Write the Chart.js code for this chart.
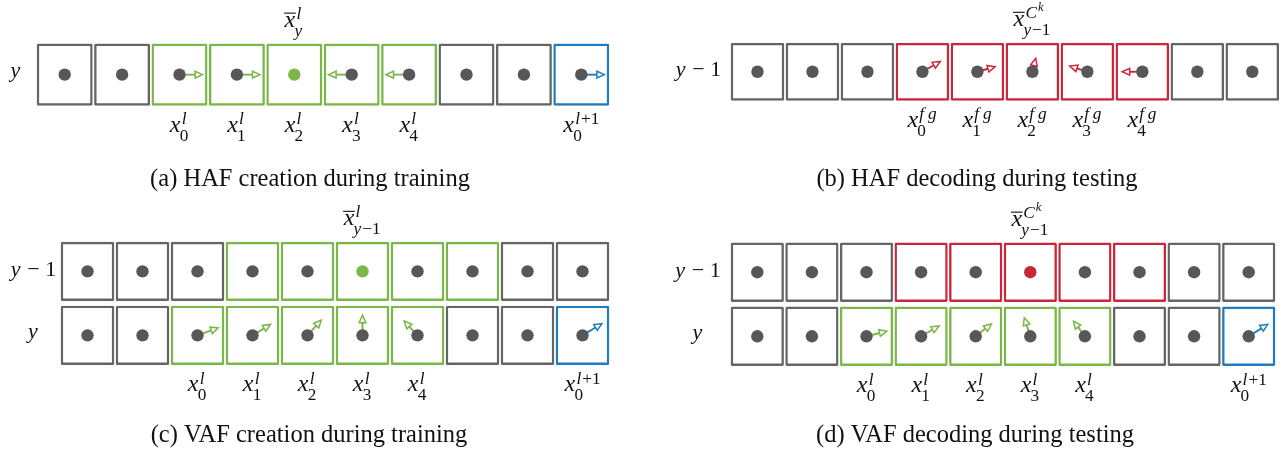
<!DOCTYPE html>
<html>
<head>
<meta charset="utf-8">
<script src="https://cdn.jsdelivr.net/npm/chart.js@4.4.0/dist/chart.umd.min.js"></script>
<style>
html, body { margin: 0; padding: 0; background: #fff; }
body { width: 1286px; height: 454px; position: relative; overflow: hidden; }
canvas { position: absolute; }
</style>
</head>
<body>
<canvas id="pa" width="643" height="200" style="left:0;top:0"></canvas>
<canvas id="pb" width="643" height="200" style="left:643px;top:0"></canvas>
<canvas id="pc" width="643" height="254" style="left:0;top:200px"></canvas>
<canvas id="pd" width="643" height="254" style="left:643px;top:200px"></canvas>
<script>
// cell positions along each strip
const cells = [0, 1, 2, 3, 4, 5, 6, 7, 8, 9];

// cell roles: o = other, f = field cell, c = centre, n = next level, d = decoded, r = decoded centre
const hafTrainY  = ['o', 'o', 'f', 'f', 'c', 'f', 'f', 'o', 'o', 'n'];
const hafTestY1  = ['o', 'o', 'o', 'd', 'd', 'd', 'd', 'd', 'o', 'o'];
const vafTrainY1 = ['o', 'o', 'o', 'f', 'f', 'c', 'f', 'f', 'o', 'o'];
const vafTrainY  = ['o', 'o', 'f', 'f', 'f', 'f', 'f', 'o', 'o', 'n'];
const vafTestY1  = ['o', 'o', 'o', 'd', 'd', 'r', 'd', 'd', 'o', 'o'];
const vafTestY   = ['o', 'o', 'f', 'f', 'f', 'f', 'f', 'o', 'o', 'n'];

// field vectors: direction (degrees, ccw from +x) and relative length
const hafTrainAng = [null, null, 0, 0, null, 180, 180, null, null, 0];
const hafTrainMag = [0, 0, 1.1, 1.1, 0, 1.1, 1.1, 0, 0, 1.1];
const hafTestAng  = [null, null, null, 30, 16, 76, 162, 180, null, null];
const hafTestMag  = [0, 0, 0, 0.98, 0.88, 0.66, 0.88, 0.96, 0, 0];
const vafTrainAng = [null, null, 20, 31, 48, 90, 133, null, null, 31];
const vafTrainMag = [0, 0, 1.05, 1.0, 0.98, 0.96, 0.93, 0, 0, 1.08];
const vafTestAng  = [null, null, 14, 30, 38, 108, 127, null, null, 32];
const vafTestMag  = [0, 0, 1.0, 0.98, 0.95, 0.93, 0.9, 0, 0, 1.07];

// labels under the cells
const fieldSubs = [null, null, '0', '1', '2', '3', '4', null, null, '0'];
const fieldSups = [null, null, 'l', 'l', 'l', 'l', 'l', null, null, 'l+1'];
const fgSubs    = [null, null, null, '0', '1', '2', '3', '4', null, null];
const fgSups    = [null, null, null, 'fg', 'fg', 'fg', 'fg', 'fg', null, null];

const BOX = { o: '#656565', f: '#7ab648', c: '#7ab648', n: '#1f7cc0', d: '#c9283b', r: '#c9283b' };
const DOT = { o: '#575757', f: '#575757', c: '#7ab648', n: '#575757', d: '#575757', r: '#c9283b' };
const SERIF = '"Liberation Serif", "Times New Roman", Times, serif';
const MATH = 24;
const ROWLAB = 22;
const CAPTION = 24.5;
const ARROW_LEN = 21;

function fnt(size, italic) { return (italic ? 'italic ' : '') + size + 'px ' + SERIF; }

function parseScript(str, size) {
  const parts = [];
  for (let i = 0; i < str.length; i++) {
    let ch = str[i];
    if (ch === '^') {
      ch = str[++i];
      parts.push({ t: ch, s: size * 0.72, i: true, r: size * 0.42, k: 0 });
      continue;
    }
    const letter = /[a-zA-Z]/.test(ch);
    const kern = ch === 'f' ? size * 0.22 : (letter ? size * 0.06 : 0);
    parts.push({ t: ch, s: size, i: letter, r: 0, k: kern });
  }
  return parts;
}

function partsWidth(ctx, parts) {
  let w = 0;
  for (const p of parts) { ctx.font = fnt(p.s, p.i); w += ctx.measureText(p.t).width + p.k; }
  return w;
}

function drawParts(ctx, parts, x, y) {
  for (const p of parts) {
    ctx.font = fnt(p.s, p.i);
    ctx.fillText(p.t, x, y - p.r);
    x += ctx.measureText(p.t).width + p.k;
  }
}

function drawSymbol(ctx, cx, base, sup, sub, bar) {
  ctx.textAlign = 'left';
  ctx.textBaseline = 'alphabetic';
  ctx.font = fnt(MATH, true);
  const wx = ctx.measureText('x').width;
  const sp = parseScript(sup, MATH * 0.72), sb = parseScript(sub, MATH * 0.72);
  const total = wx + Math.max(partsWidth(ctx, sp) + 1, partsWidth(ctx, sb));
  const x0 = cx - total / 2;
  ctx.font = fnt(MATH, true);
  ctx.fillText('x', x0, base);
  if (bar) {
    ctx.lineWidth = 1.1;
    ctx.beginPath();
    ctx.moveTo(x0 - 0.5, base - MATH * 0.58);
    ctx.lineTo(x0 + wx + 0.5, base - MATH * 0.58);
    ctx.stroke();
  }
  drawParts(ctx, sp, x0 + wx + 1.2, base - MATH * 0.33);
  drawParts(ctx, sb, x0 + wx - 0.8, base + MATH * 0.37);
}

function drawArrow(ctx, x, y, deg, len, color) {
  const t = deg * Math.PI / 180, ux = Math.cos(t), uy = -Math.sin(t);
  const tx = x + ux * len, ty = y + uy * len;
  const hl = 7.5, hw = 3.4;
  const bx = tx - ux * hl, by = ty - uy * hl;
  ctx.save();
  ctx.strokeStyle = color;
  ctx.lineWidth = 1.9;
  ctx.beginPath();
  ctx.moveTo(x, y);
  ctx.lineTo(bx, by);
  ctx.stroke();
  ctx.beginPath();
  ctx.moveTo(tx, ty);
  ctx.lineTo(bx - uy * hw, by + ux * hw);
  ctx.lineTo(bx + uy * hw, by - ux * hw);
  ctx.closePath();
  ctx.fillStyle = '#fff';
  ctx.fill();
  ctx.lineWidth = 1.5;
  ctx.stroke();
  ctx.restore();
}

function makePanel(id, p) {
  const n = p.rows.length;
  const gap = n > 1 ? 0.037 : 0.004;
  const rowVal = k => n - 1 - k;
  const boxes = [], boxColors = [], dots = [], dotColors = [];
  p.rows.forEach((roles, k) => {
    const v = rowVal(k);
    roles.forEach((role, i) => {
      boxes.push({ x: cells[i] + 0.5, y: [v - 0.5 + gap, v + 0.5 - gap] });
      boxColors.push(BOX[role]);
      dots.push({ x: cells[i] + 0.5, y: v });
      dotColors.push(DOT[role]);
    });
  });

  const diagram = {
    id: 'diagram',
    beforeDatasetsDraw(chart) {
      const ctx = chart.ctx, xs = chart.scales.x, ys = chart.scales.y;
      p.arrows.forEach((ar, k) => {
        if (!ar) return;
        ar.ang.forEach((a, i) => {
          if (a === null) return;
          drawArrow(ctx, xs.getPixelForValue(cells[i] + 0.5), ys.getPixelForValue(rowVal(k)),
            a, ARROW_LEN * ar.mag[i], BOX[p.rows[k][i]]);
        });
      });
    },
    afterDraw(chart) {
      const ctx = chart.ctx, xs = chart.scales.x, ys = chart.scales.y;
      const topBox = ys.getPixelForValue(n - 0.5 - gap);
      const botBox = ys.getPixelForValue(-0.5 + gap);
      ctx.save();
      ctx.fillStyle = '#111';
      ctx.strokeStyle = '#111';
      drawSymbol(ctx, xs.getPixelForValue(p.title.cell + 0.5), topBox - 16.5, p.title.sup, p.title.sub, true);
      p.subs.forEach((s, i) => {
        if (s === null) return;
        drawSymbol(ctx, xs.getPixelForValue(cells[i] + 0.5), botBox + 26.5, p.sups[i], s, false);
      });
      p.rowNames.forEach((name, k) => {
        const parts = parseScript(name, ROWLAB);
        let asc = 0, desc = 0;
        for (const q of parts) {
          ctx.font = fnt(q.s, q.i);
          const m = ctx.measureText(q.t);
          asc = Math.max(asc, m.actualBoundingBoxAscent);
          desc = Math.max(desc, m.actualBoundingBoxDescent);
        }
        const w = partsWidth(ctx, parts);
        const cy = ys.getPixelForValue(rowVal(k));
        drawParts(ctx, parts, p.rowX - w / 2, cy + (asc - desc) / 2);
      });
      ctx.font = fnt(CAPTION, false);
      ctx.textAlign = 'center';
      ctx.fillText(p.caption, p.capX, p.capY);
      ctx.restore();
    }
  };

  return new Chart(document.getElementById(id), {
    type: 'bar',
    data: {
      datasets: [
        { type: 'scatter', data: dots, pointRadius: 6.2, pointBackgroundColor: dotColors,
          pointBorderWidth: 0, order: 0 },
        { data: boxes, borderColor: boxColors, backgroundColor: 'rgba(0,0,0,0)', borderWidth: 2.4,
          borderSkipped: false, borderRadius: 1.5, barPercentage: 0.975, categoryPercentage: 1, order: 1 }
      ]
    },
    options: {
      responsive: false,
      animation: false,
      events: [],
      layout: { padding: p.pad },
      plugins: { legend: { display: false }, tooltip: { enabled: false } },
      scales: {
        x: { type: 'linear', min: 0, max: 10, offset: false, display: false, ticks: { stepSize: 1 } },
        y: { type: 'linear', min: -0.5, max: n - 0.5, display: false, ticks: { stepSize: 0.5 } }
      }
    },
    plugins: [diagram]
  });
}

makePanel('pa', {
  rows: [hafTrainY], rowNames: ['y'],
  arrows: [{ ang: hafTrainAng, mag: hafTrainMag }],
  subs: fieldSubs, sups: fieldSups,
  title: { cell: 4, sup: 'l', sub: 'y' },
  caption: '(a) HAF creation during training',
  pad: { left: 36, right: 33, top: 43.3, bottom: 94 }, rowX: 16, capX: 310, capY: 186
});

makePanel('pb', {
  rows: [hafTestY1], rowNames: ['y − 1'],
  arrows: [{ ang: hafTestAng, mag: hafTestMag }],
  subs: fgSubs, sups: fgSups,
  title: { cell: 5, sup: 'C^k', sub: 'y−1' },
  caption: '(b) HAF decoding during testing',
  pad: { left: 87, right: 6, top: 42.5, bottom: 99 }, rowX: 55.5, capX: 334, capY: 186
});

makePanel('pc', {
  rows: [vafTrainY1, vafTrainY], rowNames: ['y − 1', 'y'],
  arrows: [null, { ang: vafTrainAng, mag: vafTrainMag }],
  subs: fieldSubs, sups: fieldSups,
  title: { cell: 5, sup: 'l', sub: 'y−1' },
  caption: '(c) VAF creation during training',
  pad: { left: 60, right: 33, top: 39.4, bottom: 86.7 }, rowX: 33.5, capX: 309, capY: 242
});

makePanel('pd', {
  rows: [vafTestY1, vafTestY], rowNames: ['y − 1', 'y'],
  arrows: [null, { ang: vafTestAng, mag: vafTestMag }],
  subs: fieldSubs, sups: fieldSups,
  title: { cell: 5, sup: 'C^k', sub: 'y−1' },
  caption: '(d) VAF decoding during testing',
  pad: { left: 87, right: 10, top: 40.2, bottom: 85.7 }, rowX: 55, capX: 332, capY: 242
});
</script>
</body>
</html>
